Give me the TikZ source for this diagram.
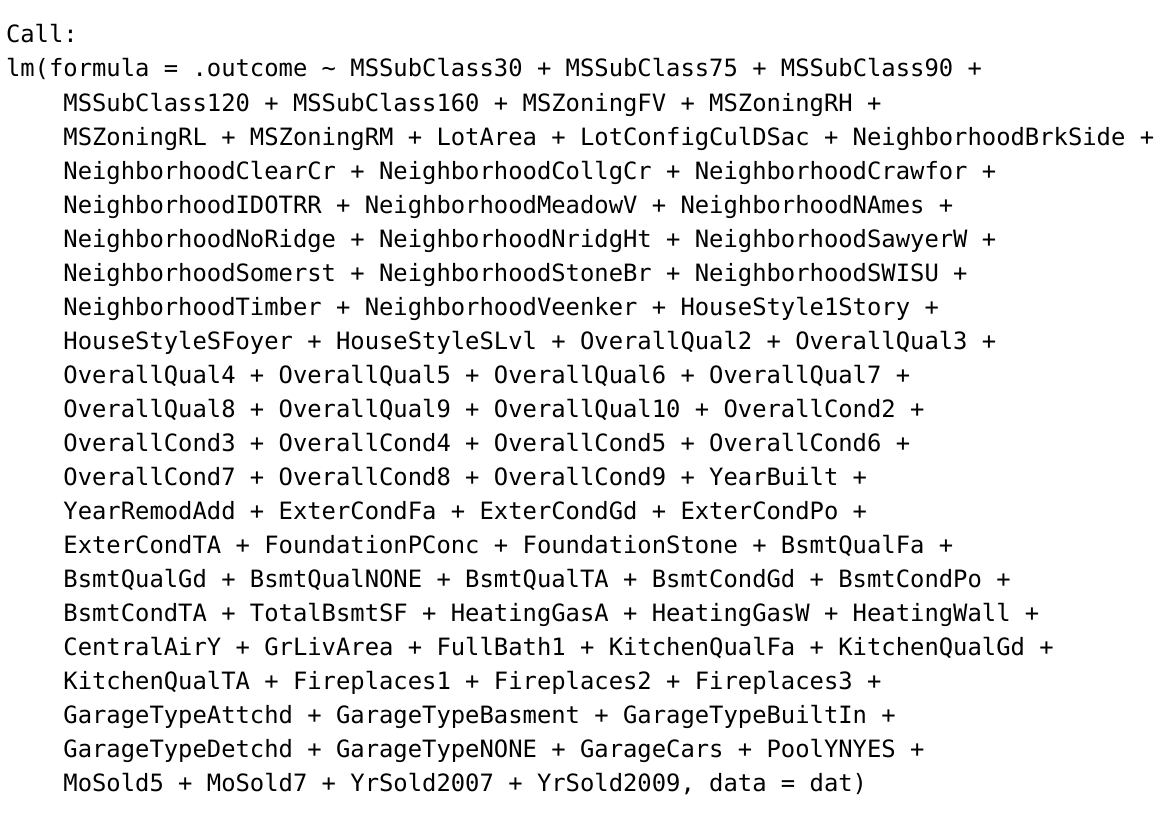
\documentclass[tikz,border=0pt]{standalone}
\usepackage{fontspec}
\setmonofont{DejaVu Sans Mono}
\begin{document}
\begin{tikzpicture}[x=1pt,y=1pt,
  codeline/.style={anchor=base west, inner sep=0pt, outer sep=0pt, text=black,
    font=\ttfamily\fontsize{23.84}{34}\selectfont\frenchspacing}]
\useasboundingbox[fill=white] (0,0) rectangle (1174,-832);
\def\xa{6}
\def\xb{63.4}
\node[codeline] (l0) at (\xa,-43) {Call:};
\node[codeline] (l1) at (\xa,-77) {lm(formula = .outcome \textasciitilde{} MSSubClass30 + MSSubClass75 + MSSubClass90 +};
\node[codeline] (l2) at (\xb,-111) {MSSubClass120 + MSSubClass160 + MSZoningFV + MSZoningRH +};
\node[codeline] (l3) at (\xb,-145) {MSZoningRL + MSZoningRM + LotArea + LotConfigCulDSac + NeighborhoodBrkSide +};
\node[codeline] (l4) at (\xb,-179) {NeighborhoodClearCr + NeighborhoodCollgCr + NeighborhoodCrawfor +};
\node[codeline] (l5) at (\xb,-213) {NeighborhoodIDOTRR + NeighborhoodMeadowV + NeighborhoodNAmes +};
\node[codeline] (l6) at (\xb,-247) {NeighborhoodNoRidge + NeighborhoodNridgHt + NeighborhoodSawyerW +};
\node[codeline] (l7) at (\xb,-281) {NeighborhoodSomerst + NeighborhoodStoneBr + NeighborhoodSWISU +};
\node[codeline] (l8) at (\xb,-315) {NeighborhoodTimber + NeighborhoodVeenker + HouseStyle1Story +};
\node[codeline] (l9) at (\xb,-349) {HouseStyleSFoyer + HouseStyleSLvl + OverallQual2 + OverallQual3 +};
\node[codeline] (l10) at (\xb,-383) {OverallQual4 + OverallQual5 + OverallQual6 + OverallQual7 +};
\node[codeline] (l11) at (\xb,-417) {OverallQual8 + OverallQual9 + OverallQual10 + OverallCond2 +};
\node[codeline] (l12) at (\xb,-451) {OverallCond3 + OverallCond4 + OverallCond5 + OverallCond6 +};
\node[codeline] (l13) at (\xb,-485) {OverallCond7 + OverallCond8 + OverallCond9 + YearBuilt +};
\node[codeline] (l14) at (\xb,-519) {YearRemodAdd + ExterCondFa + ExterCondGd + ExterCondPo +};
\node[codeline] (l15) at (\xb,-553) {ExterCondTA + FoundationPConc + FoundationStone + BsmtQualFa +};
\node[codeline] (l16) at (\xb,-587) {BsmtQualGd + BsmtQualNONE + BsmtQualTA + BsmtCondGd + BsmtCondPo +};
\node[codeline] (l17) at (\xb,-621) {BsmtCondTA + TotalBsmtSF + HeatingGasA + HeatingGasW + HeatingWall +};
\node[codeline] (l18) at (\xb,-655) {CentralAirY + GrLivArea + FullBath1 + KitchenQualFa + KitchenQualGd +};
\node[codeline] (l19) at (\xb,-689) {KitchenQualTA + Fireplaces1 + Fireplaces2 + Fireplaces3 +};
\node[codeline] (l20) at (\xb,-723) {GarageTypeAttchd + GarageTypeBasment + GarageTypeBuiltIn +};
\node[codeline] (l21) at (\xb,-757) {GarageTypeDetchd + GarageTypeNONE + GarageCars + PoolYNYES +};
\node[codeline] (l22) at (\xb,-791) {MoSold5 + MoSold7 + YrSold2007 + YrSold2009, data = dat)};
\end{tikzpicture}
\end{document}
